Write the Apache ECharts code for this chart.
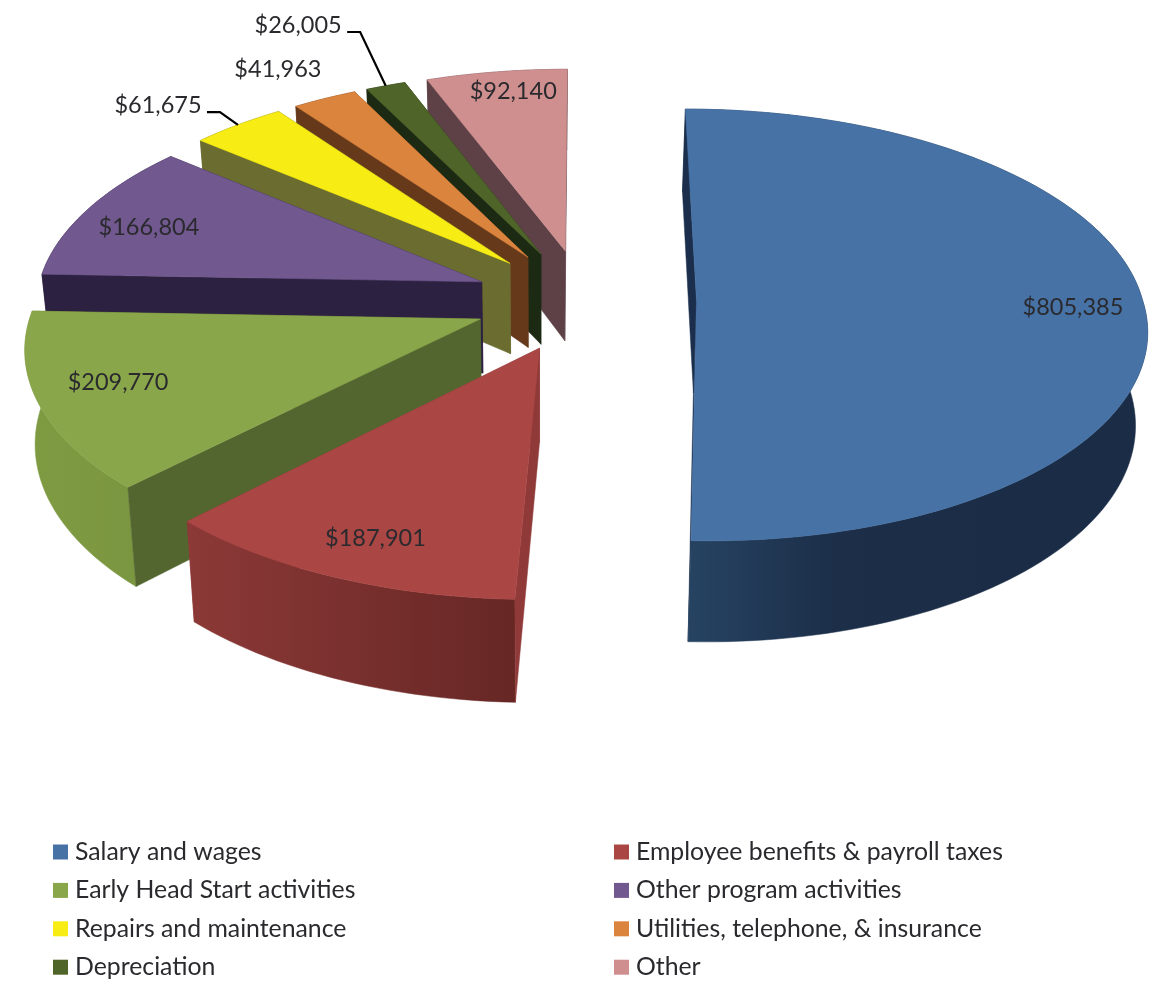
<!DOCTYPE html>
<html>
<head>
<meta charset="utf-8">
<title>Expenses</title>
<script src="https://cdn.jsdelivr.net/npm/echarts@6/dist/echarts.min.js"></script>
<style>
  html, body { margin: 0; padding: 0; background: #fff; }
</style>
</head>
<body>
<div id="main" style="width:1159px;height:981px;"></div>
<script>
var sliceNames = [
  "Salary and wages",
  "Employee benefits & payroll taxes",
  "Early Head Start activities",
  "Other program activities",
  "Repairs and maintenance",
  "Utilities, telephone, & insurance",
  "Depreciation",
  "Other"
];
var sliceValues = [805385, 187901, 209770, 166804, 61675, 41963, 26005, 92140];
var sliceLabels = ["$805,385", "$187,901", "$209,770", "$166,804", "$61,675", "$41,963", "$26,005", "$92,140"];

// styles, same order as above
var topColors = ["#4672a6", "#aa4644", "#8aa64a", "#71588f", "#f7ec13", "#db843d", "#4f6428", "#cf8f8f"];
var sideColors = ["#1b2f4c", "#8f3a38", "#536630", "#2c2140", "#6b6c30", "#66391a", "#1c2a14", "#5d4146"];
var rimColors = [
  ["#1b2d46", "#1b2d46", "#1c2e48", "#264463"],
  ["#662725", "#8c3937"],
  ["#7b9640", "#7f9b42"],
  ["#2c2140", "#2c2140"],
  ["#6b6c30", "#6b6c30"],
  ["#66391a", "#66391a"],
  ["#1c2a14", "#1c2a14"],
  ["#5d4146", "#5d4146"]
];
// where the value label sits: radius (1 = rim) and angle shift from the slice middle
var labelRadius = [0.84, 0.84, 0.82, 0.825, 1.23, 1.22, 1.46, 0.875];
var labelShift = [1, -1, 1.5, -2, -3.5, -1, -3, 1.5];
var hasLeader = [false, false, false, false, true, false, true, false];

var paintOrder = [7, 6, 5, 4, 3, 2, 1, 0];

var cx = 585, cy = 300, rx = 446, ry = 213;
var explodeX = 0.25, explodeZ = 0.24;
var perspXNear = 0.12, perspXFar = 0.1, perspNear = 0.125, perspFar = 0.1;
var vanishX = 540, bottomScale = 0.98;
var labelFont = '23.5px Lato, "Noto Sans", sans-serif';

var total = sliceValues.reduce(function (a, b) { return a + b; }, 0);
var startAngles = [];
sliceValues.reduce(function (acc, v, i) {
  startAngles[i] = acc;
  return acc + v / total * 360;
}, 0);

function rad(d) { return d * Math.PI / 180; }

function project(X, Z) {
  var sx = 1 + (Z < 0 ? perspXFar : perspXNear) * Z;
  var sy = 1 + (Z < 0 ? perspFar : perspNear) * Z;
  return [cx + X * rx * sx, cy + Z * ry * sy];
}

// point of slice i, r from its apex at angle a (clockwise from 12 o'clock)
function slicePoint(i, r, a) {
  var mid = startAngles[i] + sliceValues[i] / total * 180;
  var X = explodeX * Math.sin(rad(mid)) + r * Math.sin(rad(a));
  var Z = -explodeZ * Math.cos(rad(mid)) - r * Math.cos(rad(a));
  var p = project(X, Z);
  p.push(Z);
  return p;
}

function bottomOf(p) {
  var depth = 92 + 9 * p[2];
  return [vanishX + (p[0] - vanishX) * bottomScale, p[1] + depth];
}

function makeRenderItem(i) {
  return function (params, api) {
    var a0 = startAngles[i];
    var sweep = api.value(0) / total * 360;
    var mid = a0 + sweep / 2;
    var apex = slicePoint(i, 0, 0);
    var arc = [];
    var n = Math.max(4, Math.ceil(sweep / 1.5));
    for (var k = 0; k <= n; k++) {
      arc.push(slicePoint(i, 1, a0 + sweep * k / n));
    }
    var arcTop = arc.map(function (p) { return [p[0], p[1]]; });
    var arcBottom = arc.map(bottomOf).reverse();
    var stops = rimColors[i].map(function (c, j, all) {
      return { offset: j / (all.length - 1), color: c };
    });
    var first = arc[0], last = arc[n];
    var kids = [];
    function poly(points, fill) {
      kids.push({ type: "polygon", shape: { points: points }, style: { fill: fill, stroke: fill, lineWidth: 0.5 } });
    }
    // end wall, rim, start wall, then the top face
    poly([apex.slice(0, 2), last.slice(0, 2), bottomOf(last), bottomOf(apex)], sideColors[i]);
    poly(arcTop.concat(arcBottom), { type: "linear", x: 1, y: 0, x2: 0, y2: 0, colorStops: stops });
    poly([apex.slice(0, 2), first.slice(0, 2), bottomOf(first), bottomOf(apex)], sideColors[i]);
    poly([apex.slice(0, 2)].concat(arcTop), topColors[i]);

    var lp = slicePoint(i, labelRadius[i], mid + labelShift[i]);
    kids.push({
      type: "text", z2: 10,
      style: { text: sliceLabels[i], x: lp[0], y: lp[1], align: "center", verticalAlign: "middle", font: labelFont, fill: "#2a2a2e" }
    });
    if (hasLeader[i]) {
      var rim = slicePoint(i, 1, mid);
      kids.push({
        type: "polyline", z2: 9,
        shape: { points: [[lp[0] + 49, lp[1] + 7], [lp[0] + 62, lp[1] + 7], [rim[0], rim[1]]] },
        style: { stroke: "#000", lineWidth: 2.2, fill: null }
      });
    }
    return { type: "group", children: kids };
  };
}

var series = paintOrder.map(function (i) {
  return {
    type: "custom",
    name: sliceNames[i],
    coordinateSystem: "none",
    silent: true,
    animation: false,
    itemStyle: { color: topColors[i] },
    renderItem: makeRenderItem(i),
    data: [[sliceValues[i]]]
  };
});

function legendFor(names, left) {
  return {
    orient: "vertical",
    left: left,
    top: 832,
    height: 149,
    itemWidth: 15,
    itemHeight: 15,
    itemGap: 8.4,
    selectedMode: false,
    icon: "rect",
    data: names,
    textStyle: { fontFamily: 'Lato, "Noto Sans", sans-serif', fontSize: 24.8, color: "#2a2a2e", lineHeight: 30, padding: [0, 0, 0, 2] }
  };
}

var myChart = echarts.init(document.getElementById("main"), null, { renderer: "canvas" });
myChart.setOption({
  backgroundColor: "#fff",
  animation: false,
  legend: [
    legendFor([sliceNames[0], sliceNames[2], sliceNames[4], sliceNames[6]], 48),
    legendFor([sliceNames[1], sliceNames[3], sliceNames[5], sliceNames[7]], 609)
  ],
  series: series
});
</script>
</body>
</html>
